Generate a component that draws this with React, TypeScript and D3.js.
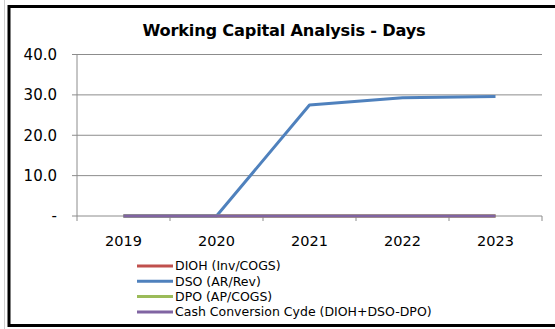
import React from 'react';
import * as d3 from 'd3';

const years = ['2019', '2020', '2021', '2022', '2023'];
const dioh = [0, 0, 0, 0, 0];
const dso = [0, 0, 27.5, 29.3, 29.6];
const dpo = [0, 0, 0, 0, 0];
const ccc = [0, 0, 0, 0, 0];
const yTicks = [0, 10, 20, 30, 40];

const seriesNames = [
  'DIOH (Inv/COGS)',
  'DSO (AR/Rev)',
  'DPO (AP/COGS)',
  'Cash Conversion Cyde (DIOH+DSO-DPO)',
];
const seriesColors = ['#C0504D', '#4F81BD', '#9BBB59', '#8064A2'];
const seriesValues = [dioh, dso, dpo, ccc];

const W = 555;
const H = 329;
const plot = { left: 77, right: 542, top: 54.5, bottom: 216 };
const font = 'Tahoma, "DejaVu Sans", sans-serif';

export default function App() {
  const x = d3.scaleBand<string>().domain(years).range([plot.left, plot.right]);
  const y = d3.scaleLinear().domain([0, 40]).range([plot.bottom, plot.top]);
  const line = d3
    .line<number>()
    .x((_, i) => (x(years[i]) as number) + x.bandwidth() / 2)
    .y((d) => y(d));

  const boundaries = years.map((yr) => x(yr) as number).concat([plot.right]);

  return (
    <svg
      width={W}
      height={H}
      style={{ position: 'absolute', left: 0, top: 0, background: '#fff' }}
    >
      {/* frame */}
      <line x1={4.5} y1={0} x2={4.5} y2={H} stroke="#d0d0d0" strokeWidth={1} />
      <rect x={9} y={6.5} width={W + 10} height={319} fill="none" stroke="#000" strokeWidth={3} />

      <text
        x={284}
        y={36}
        textAnchor="middle"
        fontFamily={font}
        fontWeight="bold"
        fontSize={16.2}
        letterSpacing={-0.2}
        fill="#000"
      >
        Working Capital Analysis - Days
      </text>

      {/* gridlines and y ticks */}
      {yTicks.map((t) => (
        <g key={t}>
          <line x1={plot.left - 5} x2={plot.right} y1={y(t)} y2={y(t)} stroke="#8c8c8c" strokeWidth={1} />
          <text
            x={57}
            y={y(t)}
            dy="0.35em"
            textAnchor="end"
            fontFamily={font}
            fontSize={15}
            fill="#000"
          >
            {t === 0 ? '-' : d3.format('.1f')(t)}
          </text>
        </g>
      ))}

      {/* axes */}
      <line x1={plot.left} x2={plot.left} y1={plot.top} y2={plot.bottom} stroke="#8c8c8c" strokeWidth={1} />
      {boundaries.map((b, i) => (
        <line key={i} x1={b} x2={b} y1={plot.bottom} y2={plot.bottom + 5} stroke="#8c8c8c" strokeWidth={1} />
      ))}
      {years.map((yr) => (
        <text
          key={yr}
          x={(x(yr) as number) + x.bandwidth() / 2}
          y={241}
          dy="0.35em"
          textAnchor="middle"
          fontFamily={font}
          fontSize={14.5}
          fill="#000"
        >
          {yr}
        </text>
      ))}

      {/* series */}
      {seriesValues.map((vals, i) => (
        <path
          key={seriesNames[i]}
          d={line(vals) || ''}
          fill="none"
          stroke={seriesColors[i]}
          strokeWidth={3}
          strokeLinejoin="round"
        />
      ))}

      {/* legend */}
      {seriesNames.map((name, i) => {
        const ly = 266 + i * 15.3;
        return (
          <g key={name}>
            <line x1={137} x2={173} y1={ly} y2={ly} stroke={seriesColors[i]} strokeWidth={3} />
            <text x={175} y={ly} dy="0.35em" fontFamily={font} fontSize={12.5} fill="#000">
              {name}
            </text>
          </g>
        );
      })}
    </svg>
  );
}
